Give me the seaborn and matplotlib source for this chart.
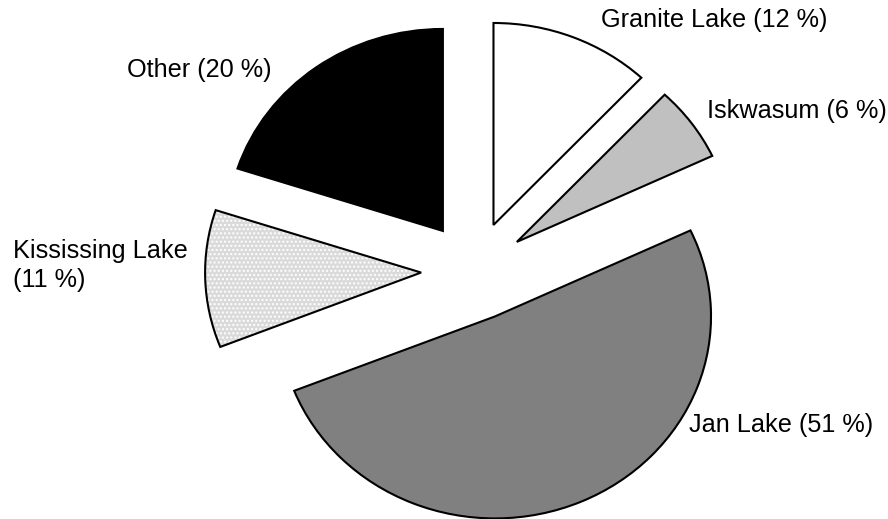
import matplotlib
matplotlib.use("Agg")
import matplotlib.pyplot as plt
from matplotlib.patches import Wedge
import seaborn as sns

# Share of catch by lake
lakes = ["Granite Lake", "Iskwasum", "Jan Lake", "Kississing Lake", "Other"]
shares = [12, 6, 51, 11, 20]
labels = ["Granite Lake (12 %)", "Iskwasum (6 %)", "Jan Lake (51 %)",
          ["Kississing Lake", "(11 %)"], "Other (20 %)"]
fills = ["#ffffff", "#c0c0c0", "#808080", "#dadada", "#000000"]

sns.set_theme(style="white")
plt.rcParams["font.family"] = ["Liberation Sans", "DejaVu Sans"]

W, H = 888, 519
fig = plt.figure(figsize=(W / 100, H / 100), dpi=100)
ax = fig.add_axes([0, 0, 1, 1])

# the pie is drawn slightly wider than tall
RX, RY = 216.0, 202.0    # radii in pixels
cx, cy = 474.0, 271.0    # pie centre in pixels (from top-left)

wedges, _ = ax.pie(
    shares,
    colors=fills,
    startangle=90,
    counterclock=False,
    explode=[0.245] * len(shares),
    radius=1.0,
    wedgeprops=dict(edgecolor="black", linewidth=1.5),
)

# dotted texture for the Kississing Lake slice
k = wedges[3]
k.set_edgecolor("white")
k.set_hatch("....")
k.set_linewidth(0)
outline = Wedge(k.center, k.r, k.theta1, k.theta2, facecolor="none",
                edgecolor="black", linewidth=1.5)
ax.add_patch(outline)

ax.set_aspect("auto")
ax.set_xlim(-cx / RX, (W - cx) / RX)
ax.set_ylim(-(H - cy) / RY, cy / RY)
ax.axis("off")

# label left edges and baselines (pixels, top-left origin)
label_pos = [(601, 27), (707, 118), (689, 432), (13, [258, 287]), (127, 77)]
for text, (px, py) in zip(labels, label_pos):
    lines = text if isinstance(text, list) else [text]
    bases = py if isinstance(py, list) else [py]
    for line, base in zip(lines, bases):
        fig.text(px / W, 1 - base / H, line, ha="left", va="baseline",
                 fontsize=18.2, color="black")

fig.savefig("out.png", dpi=100, facecolor="white")
